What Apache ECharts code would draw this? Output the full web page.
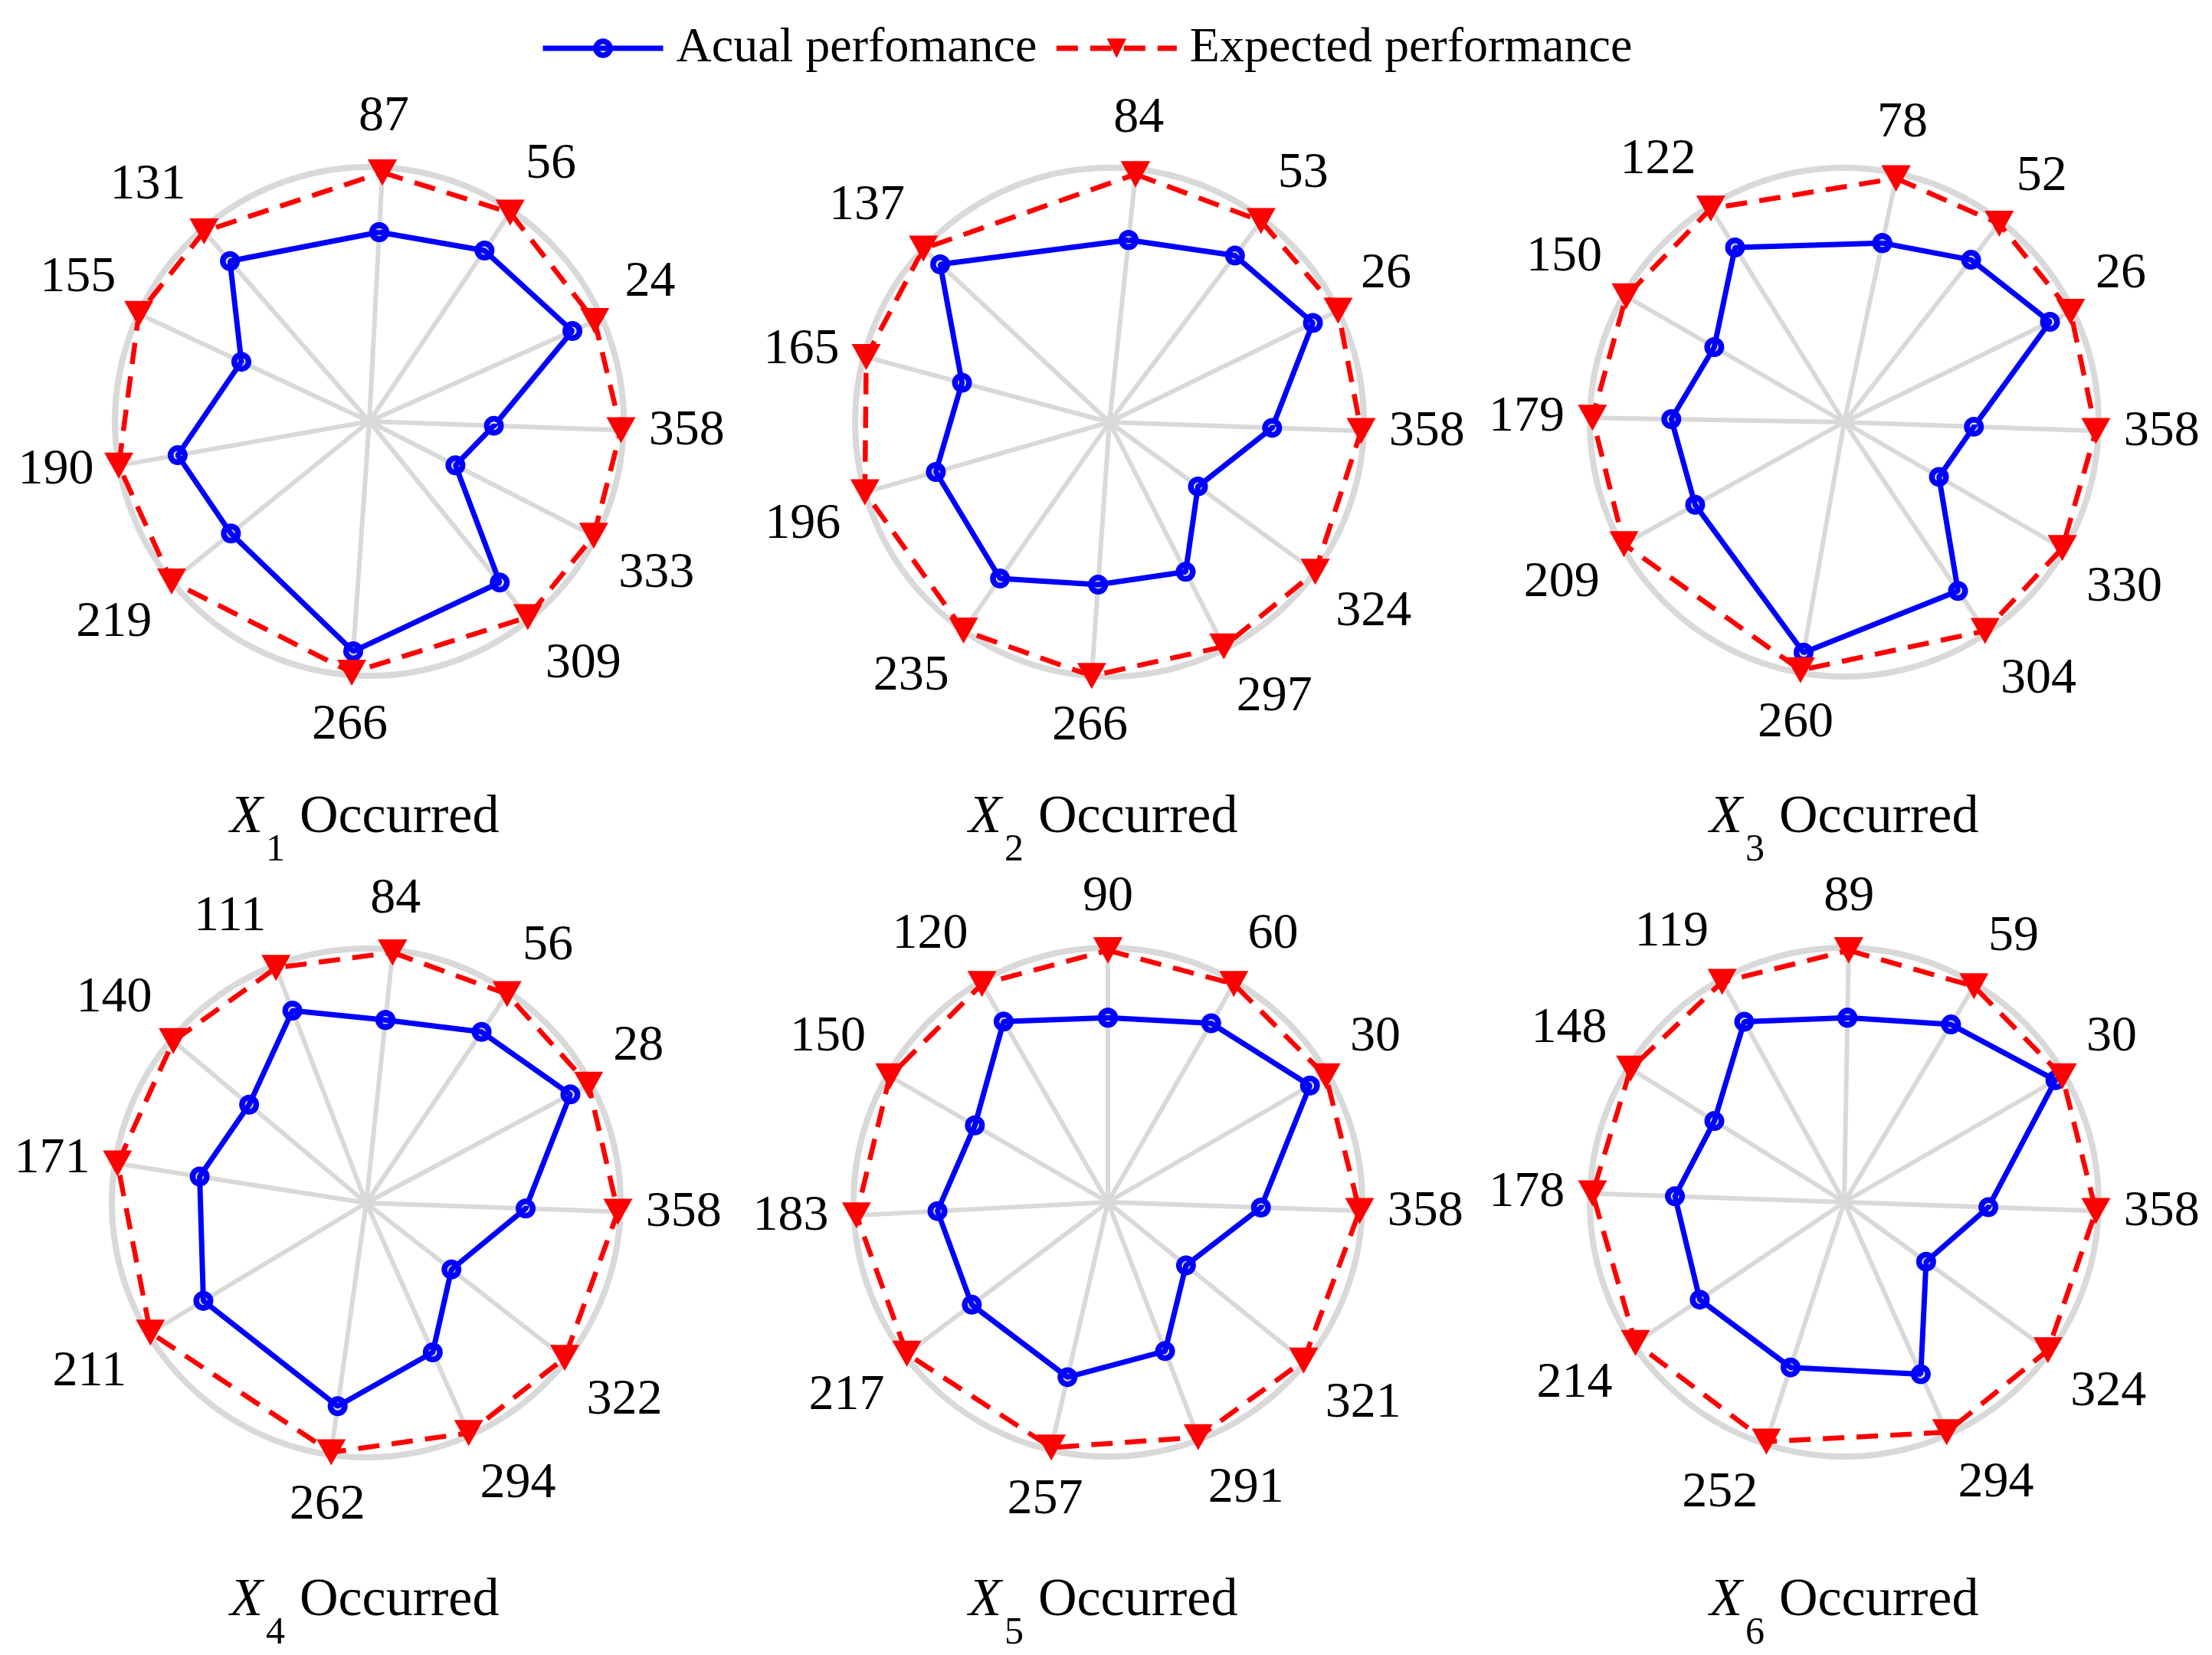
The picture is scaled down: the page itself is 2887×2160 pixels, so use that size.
<!DOCTYPE html>
<html>
<head>
<meta charset="utf-8">
<script src="https://cdn.jsdelivr.net/npm/echarts@6/dist/echarts.min.js"></script>
<style>
html,body{margin:0;padding:0;background:#fff;}
#chart{width:2887px;height:2160px;}
</style>
</head>
<body>
<div id="chart"></div>
<script>
// ---------------- DATA ----------------
const seriesNames = ['Acual perfomance', 'Expected performance'];
const panelSubscripts = ['1', '2', '3', '4', '5', '6'];

const angles1 = [87, 56, 24, 358, 333, 309, 266, 219, 190, 155, 131];
const actual1 = [0.745, 0.81, 0.874, 0.49, 0.38, 0.815, 0.906, 0.70, 0.765, 0.555, 0.835];
const expected1 = [0.98, 0.99, 0.97, 0.99, 0.99, 0.99, 0.99, 1.0, 1.0, 1.0, 0.99];

const angles2 = [84, 53, 26, 358, 324, 297, 266, 235, 196, 165, 137];
const actual2 = [0.72, 0.82, 0.89, 0.64, 0.43, 0.66, 0.64, 0.75, 0.71, 0.60, 0.91];
const expected2 = [0.98, 0.99, 1.0, 0.99, 1.0, 0.99, 1.0, 1.0, 1.0, 0.99, 1.0];

const angles3 = [78, 52, 26, 358, 330, 304, 260, 209, 179, 150, 122];
const actual3 = [0.72, 0.81, 0.90, 0.51, 0.43, 0.80, 0.92, 0.67, 0.68, 0.59, 0.81];
const expected3 = [0.98, 0.99, 0.99, 0.99, 0.99, 0.99, 0.99, 0.99, 0.99, 0.99, 0.99];

const angles4 = [84, 56, 28, 358, 322, 294, 262, 211, 171, 140, 111];
const actual4 = [0.723, 0.811, 0.909, 0.627, 0.425, 0.643, 0.807, 0.747, 0.663, 0.601, 0.81];
const expected4 = [0.99, 0.99, 0.99, 0.99, 0.99, 0.99, 0.99, 0.99, 0.99, 0.99, 0.99];

const angles5 = [90, 60, 30, 358, 321, 291, 257, 217, 183, 150, 120];
const actual5 = [0.725, 0.812, 0.917, 0.602, 0.395, 0.627, 0.706, 0.670, 0.671, 0.604, 0.82];
const expected5 = [0.99, 0.99, 0.99, 0.99, 0.99, 0.99, 0.99, 0.99, 0.99, 0.99, 0.99];

const angles6 = [89, 59, 30, 358, 324, 294, 252, 214, 178, 148, 119];
const actual6 = [0.725, 0.815, 0.959, 0.567, 0.398, 0.74, 0.683, 0.685, 0.666, 0.602, 0.811];
const expected6 = [0.99, 0.99, 0.99, 0.99, 0.99, 0.99, 0.99, 0.99, 0.99, 0.99, 0.99];

// ---------------- LAYOUT / STYLE ----------------
const panels = [
  {angles: angles1, actual: actual1, expected: expected1},
  {angles: angles2, actual: actual2, expected: expected2},
  {angles: angles3, actual: actual3, expected: expected3},
  {angles: angles4, actual: actual4, expected: expected4},
  {angles: angles5, actual: actual5, expected: expected5},
  {angles: angles6, actual: actual6, expected: expected6}
];
const centers = [[482, 550], [1448, 551], [2407, 551], [478, 1570], [1446, 1569], [2407, 1569]];
const titleCenters = [[474, 1068], [1438, 1068], [2405, 1068], [474, 2090], [1438, 2090], [2405, 2090]];
const R = 332;
const FONT = '"Liberation Serif", "Times New Roman", serif';
const GRAY = '#d9d9d9';
// hollow ring marker (outer circle clockwise, inner circle counter-clockwise)
const RING = 'path://M0,-13A13,13,0,1,1,0,13A13,13,0,1,1,0,-13ZM0,-5.5A5.5,5.5,0,1,0,0,5.5A5.5,5.5,0,1,0,0,-5.5Z';

// angle axis categories: whole degrees 0..359
const degreeCats = [];
for (let d = 0; d < 360; d++) degreeCats.push(String(d));

const polar = [], angleAxis = [], radiusAxis = [], series = [], graphic = [];

panels.forEach((p, i) => {
  const spokeSet = new Set(p.angles);
  const pick = (idx) => spokeSet.has(idx);
  polar.push({center: centers[i], radius: R});
  angleAxis.push({
    polarIndex: i,
    type: 'category',
    data: degreeCats,
    boundaryGap: false,
    startAngle: 0,
    clockwise: false,
    axisLine: {show: true, lineStyle: {color: GRAY, width: 8}},
    axisTick: {show: false, interval: pick},
    axisLabel: {
      show: true, interval: pick, margin: 33,
      fontSize: 66, fontFamily: FONT, fontWeight: 'normal', color: '#000'
    },
    splitLine: {show: true, interval: pick, lineStyle: {color: GRAY, width: 6}},
    splitArea: {show: false}
  });
  radiusAxis.push({
    polarIndex: i, type: 'value', min: 0, max: 1,
    axisLine: {show: false}, axisTick: {show: false},
    axisLabel: {show: false}, splitLine: {show: false}
  });
  const close = (vals) => {
    const d = p.angles.map((a, k) => [vals[k], a]);
    d.push([vals[0], p.angles[0]]);
    return d;
  };
  series.push({
    name: seriesNames[0], type: 'line', coordinateSystem: 'polar', polarIndex: i,
    data: close(p.actual), clip: false,
    symbol: RING, symbolSize: 26, symbolKeepAspect: true,
    lineStyle: {color: '#0000ff', width: 7},
    itemStyle: {color: '#0000ff'},
    z: 3, animation: false
  });
  series.push({
    name: seriesNames[1], type: 'line', coordinateSystem: 'polar', polarIndex: i,
    data: close(p.expected), clip: false,
    symbol: 'triangle', symbolRotate: 180, symbolSize: [38, 34],
    lineStyle: {color: '#ff0000', width: 6.5, type: [28, 16]},
    itemStyle: {color: '#ff0000'},
    z: 4, animation: false
  });
  const [cx, cy] = titleCenters[i];
  graphic.push({type: 'text', x: cx - 131, y: cy, style: {text: 'X', font: 'italic 70px ' + FONT, align: 'right', verticalAlign: 'middle', fill: '#000'}});
  graphic.push({type: 'text', x: cx - 127, y: cy + 42, style: {text: panelSubscripts[i], font: '50px ' + FONT, align: 'left', verticalAlign: 'middle', fill: '#000'}});
  graphic.push({type: 'text', x: cx - 83, y: cy, style: {text: 'Occurred', font: '70px ' + FONT, align: 'left', verticalAlign: 'middle', fill: '#000'}});
});

const chart = echarts.init(document.getElementById('chart'), null, {renderer: 'canvas'});
chart.setOption({
  backgroundColor: '#fff',
  animation: false,
  textStyle: {fontFamily: FONT},
  legend: {
    data: seriesNames,
    top: 26, left: 700,
    itemWidth: 157, itemHeight: 32, itemGap: 22,
    lineStyle: {width: 7},
    textStyle: {fontFamily: FONT, fontSize: 64, color: '#000', padding: [0, 0, 0, 12]}
  },
  polar, angleAxis, radiusAxis, series, graphic
});
</script>
</body>
</html>
